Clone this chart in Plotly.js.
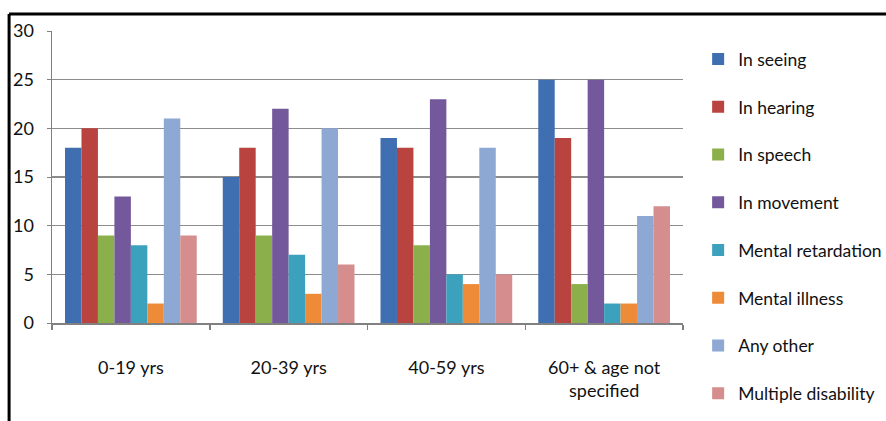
<!DOCTYPE html>
<html><head><meta charset="utf-8">
<script src="https://cdn.plot.ly/plotly-3.0.1.min.js"></script>
<style>html,body{margin:0;padding:0;background:#fff;}#chart{width:886px;height:421px;}</style>
</head><body><div id="chart"></div>
<script>
var categories = ["0-19 yrs", "20-39 yrs", "40-59 yrs", "60+ & age not<br>specified"];
var seriesNames = ["In seeing", "In hearing", "In speech", "In movement", "Mental retardation", "Mental illness", "Any other", "Multiple disability"];
var seeing = [18, 15, 19, 25];
var hearing = [20, 18, 18, 19];
var speech = [9, 9, 8, 4];
var movement = [13, 22, 23, 25];
var mentalRetardation = [8, 7, 5, 2];
var mentalIllness = [2, 3, 4, 2];
var anyOther = [21, 20, 18, 11];
var multiple = [9, 6, 5, 12];
var yTicks = [0, 5, 10, 15, 20, 25, 30];
var colors = ["#3F6FB1", "#B9433F", "#8BB04B", "#73589B", "#3BA1BC", "#EE8B38", "#8CA8D3", "#D58E8D"];

var allSeries = [seeing, hearing, speech, movement, mentalRetardation, mentalIllness, anyOther, multiple];
var FONT = "Lato, 'Open Sans', sans-serif";
var traces = allSeries.map(function (vals, i) {
  return {
    type: "bar",
    name: seriesNames[i],
    x: categories,
    y: vals,
    legendgroup: "g" + i,
    marker: {color: colors[i], line: {width: 0}},
    hoverinfo: "x+y+name"
  };
});

var layout = {
  width: 886, height: 421,
  margin: {l: 52, r: 203, t: 31, b: 98, autoexpand: false},
  paper_bgcolor: "#fff", plot_bgcolor: "#fff",
  barmode: "group", bargap: 0.165, bargroupgap: 0,
  font: {family: FONT, size: 18, color: "#111"},
  showlegend: true,
  legend: {x: 1.024, xanchor: "left", yref: "container", y: 0.463, yanchor: "middle", tracegroupgap: 22,
           font: {family: FONT, size: 17.5, color: "#111"}, itemwidth: 30, bgcolor: "rgba(0,0,0,0)", maxheight: 1},
  xaxis: {type: "category", showgrid: false, showline: true, linecolor: "#808080", linewidth: 2,
          ticks: "outside", tickson: "boundaries", ticklen: 5, tickcolor: "#808080", tickwidth: 1.5,
          ticklabelstandoff: 27, tickfont: {family: FONT, size: 18, color: "#111"}},
  yaxis: {range: [0, 30], tickvals: yTicks, ticktext: yTicks.map(String), showgrid: true,
          gridcolor: "#8C8C8C", gridwidth: 1.5, showline: true, linecolor: "#808080", linewidth: 1.5,
          ticks: "outside", ticklen: 4, tickcolor: "#808080", zeroline: false,
          ticklabelstandoff: 9, tickfont: {family: FONT, size: 18, color: "#111"}},
  shapes: [
    {type: "line", xref: "paper", yref: "paper", x0: -0.068, x1: -0.068, y0: 1.058, y1: -0.4, line: {color: "#000", width: 3}},
    {type: "line", xref: "paper", yref: "paper", x0: -0.068, x1: 1.4, y0: 1.058, y1: 1.058, line: {color: "#000", width: 3}}
  ]
};
Plotly.newPlot("chart", traces, layout, {displayModeBar: false, staticPlot: true});
</script></body></html>
